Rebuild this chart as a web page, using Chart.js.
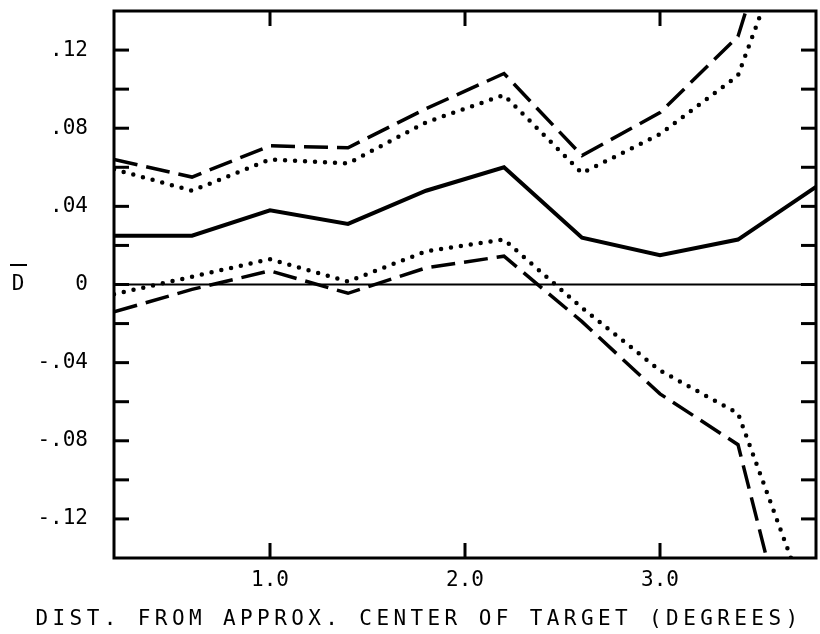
<!DOCTYPE html>
<html>
<head>
<meta charset="utf-8">
<script src="https://cdn.jsdelivr.net/npm/chart.js@4.4.1/dist/chart.umd.min.js"></script>
<style>
  html, body { margin: 0; padding: 0; background: #fff; }
  #wrap { width: 820px; height: 634px; }
</style>
</head>
<body>
<div id="wrap"><canvas id="chart" width="820" height="634"></canvas></div>
<script>
// distance from approx. center of target (degrees)
var distances = [0.2, 0.6, 1.0, 1.4, 1.8, 2.2, 2.6, 3.0, 3.4, 3.8];

// D-bar curves
var meanD       = [0.025, 0.025, 0.038, 0.031, 0.048, 0.060, 0.024, 0.015, 0.023, 0.050];
var upperDashed = [0.064, 0.055, 0.071, 0.070, 0.090, 0.108, 0.066, 0.088, 0.127, 0.255];
var upperDotted = [0.059, 0.048, 0.064, 0.062, 0.083, 0.097, 0.057, 0.077, 0.107, 0.215];
var lowerDotted = [-0.005, 0.004, 0.013, 0.0015, 0.017, 0.023, -0.012, -0.044, -0.066, -0.175];
var lowerDashed = [-0.014, -0.0025, 0.007, -0.0045, 0.0085, 0.0145, -0.019, -0.056, -0.082, -0.24];

// axis ticks
var xTicks = [1.0, 2.0, 3.0];
var xTickLabels = ['1.0', '2.0', '3.0'];
var yTicks = [0.12, 0.08, 0.04, 0, -0.04, -0.08, -0.12];
var yTickLabels = ['.12', '.08', '.04', '0', '-.04', '-.08', '-.12'];
var yMinorTicks = [0.10, 0.06, 0.02, -0.02, -0.06, -0.10];

var xTitle = 'DIST. FROM APPROX. CENTER OF TARGET (DEGREES)';
var ink = '#000';
var monoFont = '"DejaVu Sans Mono", "Liberation Mono", monospace';

function points(values) {
  return distances.map(function(d, i) { return { x: d, y: values[i] }; });
}

// frame, inward ticks, zero line and the hand-placed labels
var framePlugin = {
  id: 'frame',
  afterDraw: function(chart) {
    var ctx = chart.ctx;
    var a = chart.chartArea;
    var xs = chart.scales.x;
    var ys = chart.scales.y;
    var tick = 15;

    ctx.save();
    ctx.strokeStyle = ink;
    ctx.lineCap = 'butt';

    function seg(x1, y1, x2, y2) {
      ctx.beginPath();
      ctx.moveTo(x1, y1);
      ctx.lineTo(x2, y2);
      ctx.stroke();
    }

    var y0 = ys.getPixelForValue(0);
    ctx.lineWidth = 2;
    seg(a.left, y0, a.right, y0);

    ctx.lineWidth = 3;
    yTicks.concat(yMinorTicks).forEach(function(v) {
      var y = ys.getPixelForValue(v);
      seg(a.left, y, a.left + tick, y);
      seg(a.right - tick, y, a.right, y);
    });
    xTicks.forEach(function(v) {
      var x = xs.getPixelForValue(v);
      seg(x, a.top, x, a.top + tick);
      seg(x, a.bottom - tick, x, a.bottom);
    });

    ctx.strokeRect(a.left, a.top, a.right - a.left, a.bottom - a.top);

    // D with overbar
    ctx.fillStyle = ink;
    ctx.font = '21px ' + monoFont;
    ctx.textAlign = 'center';
    ctx.textBaseline = 'middle';
    ctx.fillText('D', 18, y0);
    ctx.fillRect(10, Math.round(y0) - 21, 17, 2);

    // x axis title, typewriter spacing
    ctx.letterSpacing = '4.4px';
    ctx.fillText(xTitle, 419, 620);
    ctx.restore();
  }
};

var ctx = document.getElementById('chart').getContext('2d');
new Chart(ctx, {
  type: 'line',
  data: {
    datasets: [
      { data: points(upperDashed), borderDash: [24, 9], borderWidth: 3.5 },
      { data: points(upperDotted), borderDash: [0, 10], borderCapStyle: 'round', borderWidth: 4.5 },
      { data: points(meanD), borderWidth: 4 },
      { data: points(lowerDotted), borderDash: [0, 10], borderCapStyle: 'round', borderWidth: 4.5 },
      { data: points(lowerDashed), borderDash: [24, 9], borderWidth: 3.5 }
    ]
  },
  options: {
    responsive: false,
    animation: false,
    layout: { padding: { top: 11, right: 4, left: 0, bottom: 0 } },
    elements: {
      line: { borderColor: ink, tension: 0, fill: false, borderJoinStyle: 'miter' },
      point: { radius: 0 }
    },
    plugins: {
      legend: { display: false },
      tooltip: { enabled: false }
    },
    scales: {
      x: {
        type: 'linear',
        min: 0.2,
        max: 3.8,
        afterBuildTicks: function(scale) {
          scale.ticks = xTicks.map(function(v) { return { value: v }; });
        },
        afterFit: function(scale) {
          scale.height = 76;
          scale.paddingLeft = 0;
          scale.paddingRight = 0;
        },
        grid: { display: false, drawTicks: false },
        border: { display: false },
        ticks: {
          callback: function(value, index) { return xTickLabels[index]; },
          color: ink,
          font: { family: monoFont, size: 21 },
          padding: 10,
          maxRotation: 0,
          autoSkip: false
        }
      },
      y: {
        type: 'linear',
        min: -0.14,
        max: 0.14,
        afterBuildTicks: function(scale) {
          scale.ticks = yTicks.map(function(v) { return { value: v }; });
        },
        afterFit: function(scale) {
          scale.width = 114;
          scale.paddingTop = 0;
          scale.paddingBottom = 0;
        },
        grid: { display: false, drawTicks: false },
        border: { display: false },
        ticks: {
          callback: function(value, index) { return yTickLabels[index]; },
          color: ink,
          font: { family: monoFont, size: 21 },
          padding: 26,
          autoSkip: false
        }
      }
    }
  },
  plugins: [framePlugin]
});
</script>
</body>
</html>
